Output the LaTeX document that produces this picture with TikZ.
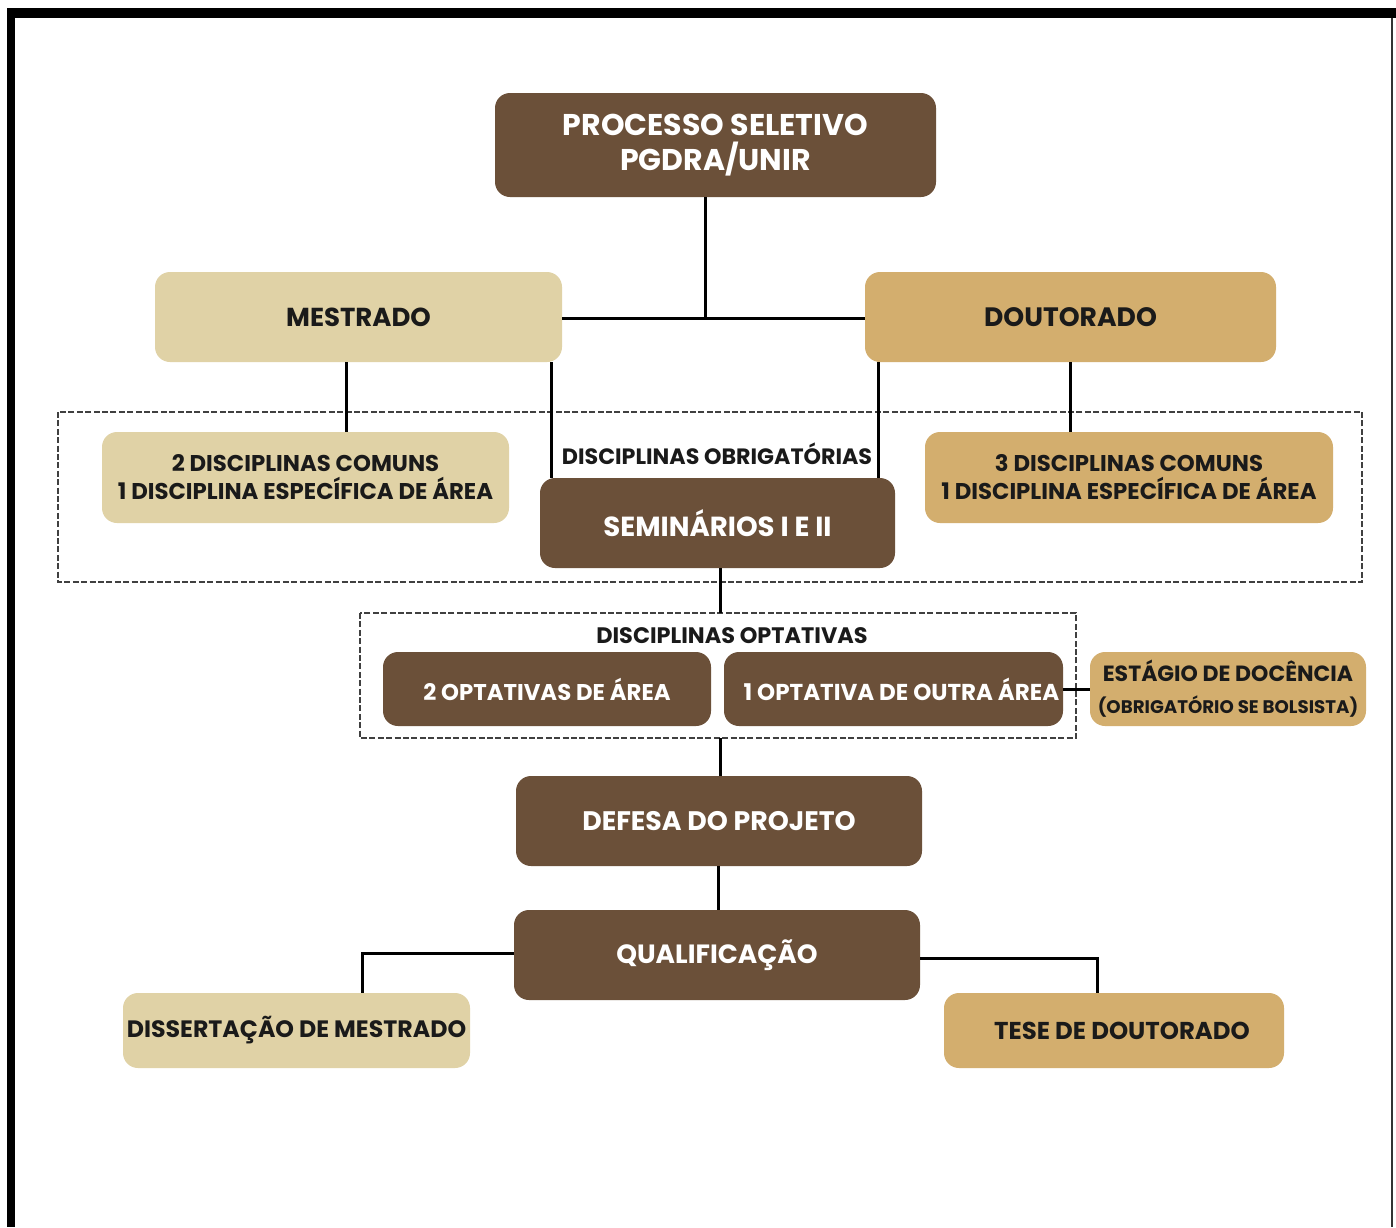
\documentclass[tikz,border=0pt]{standalone}
\usepackage{fontspec}
\setmainfont{Poppins}
\definecolor{dbrown}{HTML}{6B5039}
\definecolor{lbeige}{HTML}{E0D2A6}
\definecolor{tan}{HTML}{D3AE6E}
\definecolor{ink}{HTML}{1A1A1A}
\begin{document}
\begin{tikzpicture}[x=0.5pt,y=-0.5pt,
  box/.style={rounded corners=7.5pt, inner sep=0pt, align=center, font=\bfseries},
  darkbox/.style={box, fill=dbrown, text=white},
  lightbox/.style={box, fill=lbeige, text=ink},
  tanbox/.style={box, fill=tan, text=ink},
  conn/.style={line width=1.5pt, draw=black},
  group/.style={draw=black!75, line width=0.8pt, dash pattern=on 3pt off 1.2pt},
  lbl/.style={inner sep=0pt, font=\bfseries, text=ink}]
\useasboundingbox (0,0) rectangle (1396,1227);
\fill[white] (0,0) rectangle (1396,1227);
% frame
\fill[black] (7,8) rectangle (1396,18);
\fill[black] (7,8) rectangle (15,1227);
\fill[black!80] (1391,18) rectangle (1393,1227);

% dashed groups
\draw[group] (58,412) rectangle (1362,582);
\coordinate (g2top) at (720,613);
\coordinate (g2bot) at (720,738);
\draw[group] (360,613) rectangle (1076,738);

% nodes
\node[darkbox, minimum width=220.5pt, minimum height=52pt, font=\bfseries\fontsize{15}{17.5}\selectfont] (proc) at (715.5,145) {PROCESSO SELETIVO\\PGDRA/UNIR};
\node[lightbox, minimum width=203.5pt, minimum height=45pt, font=\bfseries\fontsize{13}{16}\selectfont] (mest) at (358.5,317) {MESTRADO};
\node[tanbox, minimum width=205.5pt, minimum height=45pt, font=\bfseries\fontsize{13.3}{16}\selectfont] (dout) at (1070.5,317) {DOUTORADO};
\node[lightbox, minimum width=203.5pt, minimum height=45.5pt, font=\bfseries\fontsize{11.4}{14}\selectfont] (dm) at (305.5,477.5) {2 DISCIPLINAS COMUNS\\1 DISCIPLINA ESPECÍFICA DE ÁREA};
\node[tanbox, minimum width=204pt, minimum height=45.5pt, font=\bfseries\fontsize{11.4}{14}\selectfont] (dd) at (1129,477.5) {3 DISCIPLINAS COMUNS\\1 DISCIPLINA ESPECÍFICA DE ÁREA};
\node[lbl, font=\bfseries\fontsize{11.1}{13}\selectfont] (obr) at (717,454) {DISCIPLINAS OBRIGATÓRIAS};
\node[darkbox, minimum width=177.5pt, minimum height=45pt, font=\bfseries\fontsize{13.8}{16}\selectfont] (sem) at (717.5,523) {SEMINÁRIOS I E II};
\node[lbl, font=\bfseries\fontsize{11.2}{13}\selectfont] (opt) at (732,636) {DISCIPLINAS OPTATIVAS};
\node[darkbox, minimum width=164pt, minimum height=37pt, font=\bfseries\fontsize{11.4}{13}\selectfont] (opa) at (547,689) {2 OPTATIVAS DE ÁREA};
\node[darkbox, minimum width=169.5pt, minimum height=37pt, font=\bfseries\fontsize{11.5}{13}\selectfont] (opb) at (893.5,689) {\hspace*{8pt}1 OPTATIVA DE OUTRA ÁREA};
\node[tanbox, minimum width=138pt, minimum height=37pt, font=\bfseries\fontsize{11}{16}\selectfont] (est) at (1228,689) {ESTÁGIO DE DOCÊNCIA\\{\fontsize{9.1}{11}\selectfont (OBRIGATÓRIO SE BOLSISTA)}};
\node[darkbox, minimum width=203pt, minimum height=45pt, font=\bfseries\fontsize{13.4}{16}\selectfont] (def) at (719,821) {DEFESA DO PROJETO};
\node[darkbox, minimum width=203pt, minimum height=45pt, font=\bfseries\fontsize{13.2}{16}\selectfont] (qual) at (717,955) {QUALIFICAÇÃO};
\node[lightbox, minimum width=173.5pt, minimum height=37.5pt, font=\bfseries\fontsize{11.85}{14}\selectfont] (diss) at (296.5,1030.5) {DISSERTAÇÃO DE MESTRADO};
\node[tanbox, minimum width=170pt, minimum height=37.5pt, font=\bfseries\fontsize{12.2}{14}\selectfont] (tese) at (1114,1030.5) {\hspace*{8pt}TESE DE DOUTORADO};

% connectors
\coordinate (hub) at (705,318);
\draw[conn] (proc.south -| hub) -- (hub);
\draw[conn] (mest.east |- hub) -- (dout.west |- hub);
\draw[conn] (mest.south -| 346,0) -- (dm.north -| 346,0);
\draw[conn] (mest.south -| 551,0) -- (sem.north -| 551,0);
\draw[conn] (dout.south -| 878,0) -- (sem.north -| 878,0);
\draw[conn] (dout.south -| 1070,0) -- (dd.north -| 1070,0);
\draw[conn] (sem.south -| g2top) -- (g2top);
\draw[conn] (g2bot) -- (def.north -| g2bot);
\draw[conn] (def.south -| 718,0) -- (qual.north -| 718,0);
\draw[conn] (opb.east) -- (est.west);
\draw[conn] (qual.west |- 0,953) -- (362,953) -- (diss.north -| 362,0);
\draw[conn] (qual.east |- 0,958) -- (1097,958) -- (tese.north -| 1097,0);
\end{tikzpicture}
\end{document}
